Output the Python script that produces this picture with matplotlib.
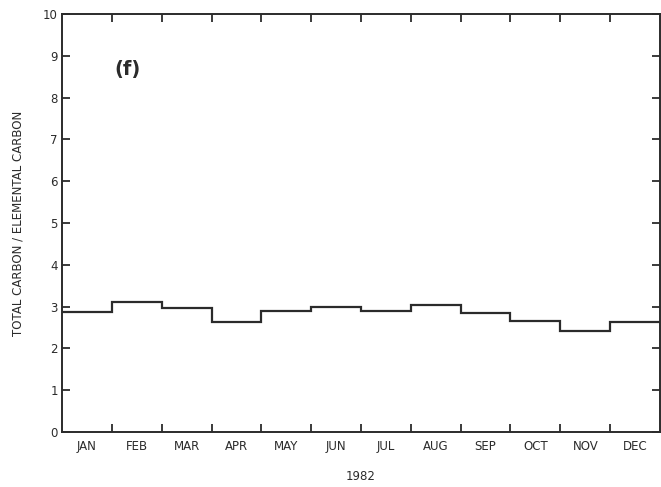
import numpy as np
import matplotlib.pyplot as plt

# --- Data ---
months = ['JAN', 'FEB', 'MAR', 'APR', 'MAY', 'JUN',
          'JUL', 'AUG', 'SEP', 'OCT', 'NOV', 'DEC']
ratio = [2.87, 3.10, 2.97, 2.62, 2.89, 3.00,
         2.90, 3.05, 2.85, 2.66, 2.42, 2.63]
yticks = list(range(0, 11))

ink = '#2b2b2b'
plt.rcParams['font.family'] = ['DejaVu Sans']

fig = plt.figure(figsize=(6.61, 4.87), dpi=100)
ax = fig.add_axes([62 / 661, 55 / 487, 598 / 661, 418 / 487])

edges = np.arange(len(months) + 1)
ax.stairs(ratio, edges, baseline=None, color=ink, lw=1.6)

ax.set_xlim(0, 12)
ax.set_ylim(0, 10)

# month boundaries as inward ticks, labels centred in each month
ax.set_xticks(edges[1:-1])
ax.set_xticklabels([])
ax.set_xticks(edges[:-1] + 0.5, minor=True)
ax.set_xticklabels(months, minor=True, fontsize=8.5, color=ink)
ax.tick_params(axis='x', which='major', direction='in', length=6, width=1.3,
               top=True, bottom=True, color=ink)
ax.tick_params(axis='x', which='minor', length=0, pad=6)

ax.set_yticks(yticks)
ax.set_yticklabels([str(v) for v in yticks], fontsize=8.5, color=ink)
ax.tick_params(axis='y', direction='in', length=6, width=1.3,
               left=True, right=True, color=ink, pad=3)

for s in ax.spines.values():
    s.set_linewidth(1.4)
    s.set_color(ink)

ax.set_ylabel('TOTAL CARBON / ELEMENTAL CARBON', fontsize=8.5, color=ink,
              labelpad=13)
ax.set_xlabel('1982', fontsize=8.5, color=ink, labelpad=12)

ax.text(0.088, 0.855, '(f)', transform=ax.transAxes, fontsize=14,
        fontweight='bold', color=ink)

fig.savefig('out.png', dpi=100)
